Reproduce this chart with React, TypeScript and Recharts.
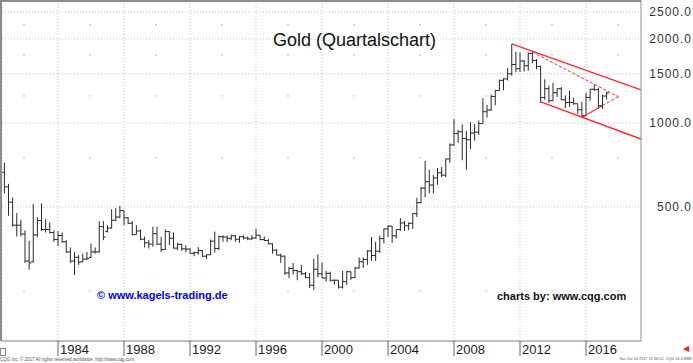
import {
  ComposedChart, Scatter, ErrorBar, XAxis, YAxis, CartesianGrid, ReferenceLine
} from 'recharts';

// quarterly gold bars, first bar = Q4 1980, last = Q2 2017
const FIRST_QUARTER = 1980.75;

const open = [
  666,
  590, 520, 430, 430,  400, 320, 318, 397,  447, 415, 415, 405,
  382, 395, 375, 345,  320, 330, 318, 325,  330, 345, 345, 425,
  408, 420, 448, 460,  485, 457, 437, 398,  410, 383, 372, 368,
  401, 368, 352, 408,  386, 356, 367, 354,  353, 341, 343, 349,
  333, 337, 377, 355,  391, 390, 386, 394,  383, 391, 387, 384,
  387, 396, 382, 379,  369, 350, 336, 333,  290, 301, 296, 293,
  288, 279, 262, 299,  288, 278, 289, 273,  273, 258, 270, 293,
  279, 302, 318, 324,  348, 335, 347, 385,  417, 427, 394, 415,
  438, 428, 437, 473,  518, 584, 616, 599,  635, 663, 650, 743,
  834, 916, 930, 880,  870, 920, 927, 995,  1097, 1113, 1244, 1307,
  1421, 1439, 1500, 1620,  1565, 1668, 1604, 1772,  1675, 1595, 1234, 1327,
  1202, 1284, 1327, 1211,  1184, 1183, 1172, 1115,  1061, 1235, 1321, 1316,
  1152, 1249,
];

const high = [
  720,
  605, 540, 475, 450,  412, 378, 512, 460,  515, 452, 440, 412,
  410, 405, 380, 358,  345, 336, 340, 345,  370, 358, 445, 445,
  430, 490, 495, 505,  485, 460, 445, 430,  415, 392, 380, 425,
  425, 390, 415, 410,  405, 372, 370, 365,  356, 346, 359, 350,
  338, 382, 408, 395,  396, 395, 398, 397,  393, 396, 392, 396,
  418, 397, 392, 384,  370, 353, 340, 335,  305, 315, 297, 310,
  292, 290, 326, 338,  316, 295, 293, 275,  273, 295, 295, 293,
  305, 330, 330, 350,  390, 375, 395, 418,  430, 427, 415, 456,
  445, 440, 475, 540,  590, 732, 680, 650,  690, 695, 745, 845,
  1033, 945, 988, 935,  1007, 990, 1020, 1227,  1160, 1265, 1310, 1430,
  1447, 1577, 1920, 1803,  1790, 1680, 1790, 1800,  1695, 1605, 1434, 1361,
  1392, 1332, 1345, 1255,  1307, 1232, 1172, 1191,  1284, 1325, 1375, 1338,
  1263, 1295,
];

const low = [
  560,
  465, 425, 392, 392,  315, 298, 316, 390,  410, 405, 402, 375,
  362, 372, 342, 315,  285, 310, 316, 322,  328, 340, 343, 380,
  405, 418, 445, 455,  430, 435, 396, 398,  380, 358, 355, 360,
  365, 345, 350, 365,  355, 350, 348, 344,  340, 333, 337, 330,
  326, 336, 343, 350,  375, 374, 380, 375,  372, 382, 380, 381,
  385, 380, 378, 367,  340, 336, 315, 285,  278, 286, 273, 285,
  278, 256, 252, 280,  278, 270, 270, 263,  255, 255, 263, 274,
  278, 301, 302, 310,  320, 320, 342, 370,  390, 372, 385, 410,
  410, 413, 417, 460,  515, 542, 560, 560,  600, 640, 640, 720,
  830, 850, 735, 680,  805, 865, 905, 995,  1045, 1105, 1157, 1305,
  1308, 1420, 1478, 1520,  1523, 1527, 1540, 1635,  1555, 1180, 1211, 1180,
  1200, 1240, 1206, 1131,  1142, 1162, 1077, 1046,  1061, 1200, 1302, 1122,
  1124, 1214,
];

const close = [
  590,
  520, 430, 430, 400,  320, 315, 397, 447,  415, 415, 405, 382,
  395, 375, 345, 320,  330, 317, 325, 327,  345, 345, 425, 390,
  420, 448, 460, 485,  457, 437, 398, 410,  383, 372, 368, 401,
  368, 352, 408, 386,  356, 367, 354, 353,  341, 343, 349, 333,
  337, 377, 355, 391,  390, 386, 394, 383,  391, 387, 384, 387,
  396, 382, 379, 369,  350, 336, 333, 290,  301, 296, 293, 288,
  279, 262, 299, 288,  278, 289, 273, 273,  258, 270, 293, 279,
  302, 318, 324, 348,  335, 347, 385, 417,  427, 394, 415, 438,
  428, 437, 473, 518,  584, 616, 599, 635,  663, 650, 743, 834,
  916, 930, 880, 870,  920, 927, 995, 1097,  1113, 1244, 1307, 1421,
  1439, 1500, 1620, 1565,  1668, 1604, 1772, 1675,  1595, 1234, 1327, 1202,
  1284, 1327, 1211, 1184,  1183, 1172, 1115, 1061,  1235, 1321, 1316, 1152,
  1249, 1280,
];

const yearTicks = [1984, 1988, 1992, 1996, 2000, 2004, 2008, 2012, 2016];
const priceTicks = [500, 1000, 1500, 2000, 2500];
const minorPrices = [2250, 1750, 1250, 750, 250];

// trend lines drawn on the chart (date, price)
const channelTop = [{ x: 2011.5, y: 1920 }, { x: 2019.33, y: 1313 }];
const channelBottom = [{ x: 2013.25, y: 1190 }, { x: 2019.33, y: 876 }];
const triangleTop = [{ x: 2012.75, y: 1795 }, { x: 2017.96, y: 1242 }];
const triangleBottom = [{ x: 2015.75, y: 1046 }, { x: 2017.0, y: 1155 }];
const triangleBottomEnd = [{ x: 2017.0, y: 1155 }, { x: 2017.96, y: 1242 }];

const rows = open.map((o, i) => ({
  t: FIRST_QUARTER + i * 0.25,
  open: o,
  close: close[i],
  err: [close[i] - low[i], high[i] - close[i]],
}));

const FONT = '"Liberation Sans", Arial, sans-serif';
const BAR = '#2a2a2a';
const RED = '#ff2a2a';

const YearTick = ({ x, y, payload }: any) => (
  <g>
    <line x1={x} x2={x} y1={y} y2={y + 15} stroke="#666" />
    <text x={x + 2} y={y + 13} fontSize={13} fontFamily={FONT} fill="#222">
      {payload.value}
    </text>
  </g>
);

const PriceTick = ({ y, payload }: any) => (
  <text x={692} y={y + 4.5} fontSize={12} fontFamily={FONT} fill="#333" textAnchor="end" letterSpacing={1}>
    {payload.value.toFixed(1)}
  </text>
);

const OpenTick = ({ cx, cy }: any) => (
  <line x1={cx - 2.2} x2={cx} y1={cy} y2={cy} stroke={BAR} strokeWidth={1} />
);

const CloseTick = ({ cx, cy }: any) => (
  <line x1={cx} x2={cx + 2.2} y1={cy} y2={cy} stroke={BAR} strokeWidth={1} />
);

export default function App() {
  return (
    <div style={{ position: 'relative', width: 693, height: 363, background: '#fff', fontFamily: FONT, overflow: 'hidden' }}>
      <style>{'body{margin:0}'}</style>
      <ComposedChart width={693} height={363} data={rows} margin={{ top: 1, right: 0, bottom: 0, left: 2 }}>
        <CartesianGrid stroke="#c4c4c4" strokeDasharray="1 2" />
        {minorPrices.map((v) => (
          <ReferenceLine key={v} y={v} stroke="#bdbdbd" strokeDasharray="2 64" strokeDashoffset={44} ifOverflow="hidden" />
        ))}
        <XAxis
          dataKey="t"
          type="number"
          domain={[1980.606, 2019.333]}
          allowDataOverflow
          ticks={yearTicks}
          interval={0}
          height={22}
          axisLine={{ stroke: '#8a8a8a' }}
          tickLine={false}
          tickSize={0}
          tickMargin={0}
          tick={<YearTick />}
        />
        <YAxis
          orientation="right"
          type="number"
          scale="log"
          domain={[165.4, 2736]}
          allowDataOverflow
          ticks={priceTicks}
          interval={0}
          width={52}
          axisLine={{ stroke: '#9a9a9a' }}
          tickLine={false}
          tickSize={0}
          tickMargin={0}
          tick={<PriceTick />}
        />
        <Scatter dataKey="open" shape={<OpenTick />} isAnimationActive={false} />
        <Scatter dataKey="close" shape={<CloseTick />} isAnimationActive={false}>
          <ErrorBar dataKey="err" direction="y" width={0} stroke={BAR} strokeWidth={1} isAnimationActive={false} />
        </Scatter>
        <ReferenceLine segment={channelTop} stroke={RED} strokeWidth={1.4} ifOverflow="visible" />
        <ReferenceLine segment={channelBottom} stroke={RED} strokeWidth={1.4} ifOverflow="visible" />
        <ReferenceLine segment={triangleTop} stroke={RED} strokeWidth={1} strokeDasharray="3 2" ifOverflow="visible" />
        <ReferenceLine segment={triangleBottom} stroke={RED} strokeWidth={1.2} ifOverflow="visible" />
        <ReferenceLine segment={triangleBottomEnd} stroke={RED} strokeWidth={1} strokeDasharray="3 2" ifOverflow="visible" />
      </ComposedChart>

      {/* frame top/left */}
      <div style={{ position: 'absolute', left: 0, top: 0, width: 639, height: 339, borderTop: '2px solid #8c8c8c', borderLeft: '2px solid #8c8c8c', pointerEvents: 'none' }} />
      <div style={{ position: 'absolute', left: 0, top: 348, width: 4, height: 6, border: '1px solid #888' }} />

      <div style={{ position: 'absolute', left: 273, top: 31, fontSize: 18, lineHeight: '18px', color: '#111', whiteSpace: 'nowrap' }}>
        Gold (Quartalschart)
      </div>
      <div style={{ position: 'absolute', left: 97, top: 290, fontSize: 11, lineHeight: '11px', fontWeight: 'bold', color: '#0000ff', whiteSpace: 'nowrap' }}>
        © www.kagels-trading.de
      </div>
      <div style={{ position: 'absolute', left: 497, top: 291, fontSize: 11, lineHeight: '11px', fontWeight: 'bold', color: '#111', whiteSpace: 'nowrap' }}>
        charts by: www.cqg.com
      </div>
      <div style={{ position: 'absolute', left: 0, top: 357, fontSize: 4.5, lineHeight: '5px', color: '#555', whiteSpace: 'nowrap' }}>
        CQG Inc. © 2017 All rights reserved worldwide. http://www.cqg.com
      </div>
      <div style={{ position: 'absolute', right: 1, top: 357, fontSize: 3.8, lineHeight: '5px', color: '#555', whiteSpace: 'nowrap' }}>
        Sat Jun 03 2017 15:36:12, CQG 16.4.8880
      </div>
      <div style={{ position: 'absolute', left: 683, top: 345, fontSize: 8, lineHeight: '8px', color: '#ff2020' }}>
        ◀
      </div>
    </div>
  );
}
